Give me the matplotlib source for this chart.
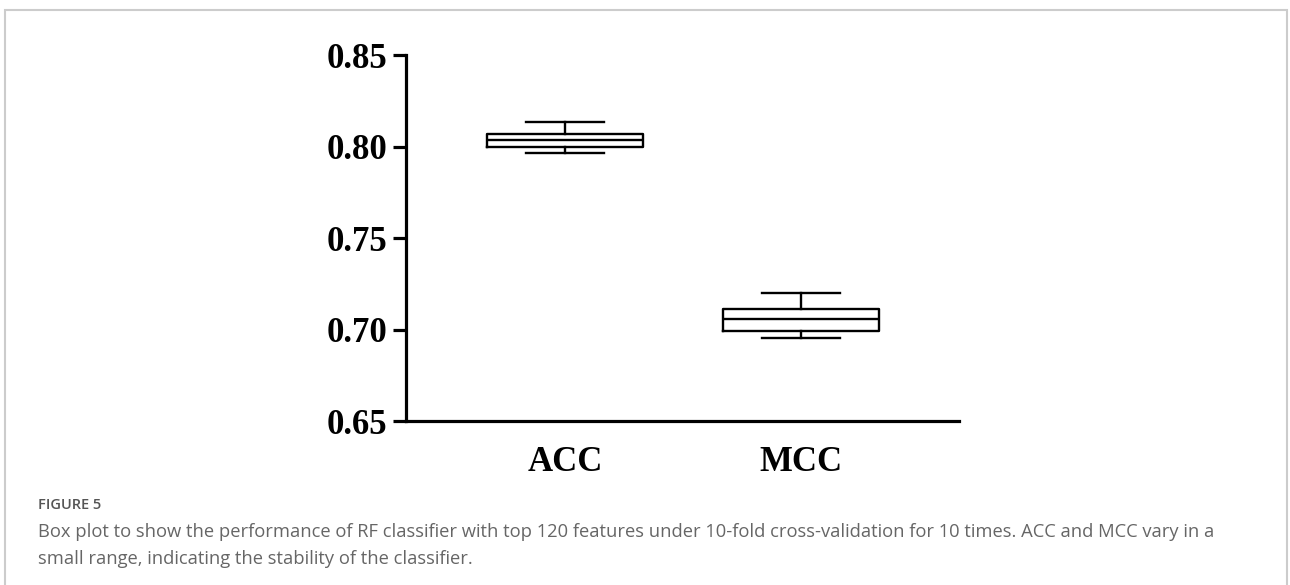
import matplotlib
matplotlib.use('Agg')
import matplotlib.pyplot as plt
from matplotlib.patches import Rectangle

# box plot values (10 x 10-fold CV)
categories = ['ACC', 'MCC']
whis_low = [0.7967, 0.6955]
q1 = [0.7995, 0.6990]
medians = [0.8036, 0.7055]
q3 = [0.8071, 0.7114]
whis_high = [0.8133, 0.7201]
y_ticks = [0.65, 0.70, 0.75, 0.80, 0.85]

caption_head = 'FIGURE 5'
caption_text = ('Box plot to show the performance of RF classifier with top 120 features under 10-fold '
                'cross-validation for 10 times. ACC and MCC vary in a\nsmall range, indicating the '
                'stability of the classifier.')

stats = []
for i in range(len(categories)):
    stats.append({'label': categories[i], 'whislo': whis_low[i], 'q1': q1[i], 'med': medians[i],
                  'q3': q3[i], 'whishi': whis_high[i], 'fliers': []})

fig = plt.figure(figsize=(12.9, 5.85), dpi=100)
ax = fig.add_axes([0.3147, 0.2803, 0.4287, 0.6256])

lw = 1.7
ax.bxp(stats, positions=[1, 2], widths=0.66, showfliers=False,
       boxprops=dict(color='black', linewidth=lw),
       medianprops=dict(color='black', linewidth=lw),
       whiskerprops=dict(color='black', linewidth=lw),
       capprops=dict(color='black', linewidth=lw), capwidths=0.33)

ax.set_xlim(0.326, 2.669)
ax.set_ylim(0.65, 0.85)
ax.set_yticks(y_ticks)
ax.set_yticklabels(['%.2f' % v for v in y_ticks])

for s in ['top', 'right']:
    ax.spines[s].set_visible(False)
for s in ['left', 'bottom']:
    ax.spines[s].set_linewidth(2.3)

serif = dict(family='Liberation Serif', weight='bold', size=25)
for lab in ax.get_yticklabels() + ax.get_xticklabels():
    lab.set_fontproperties(matplotlib.font_manager.FontProperties(**serif))
ax.tick_params(axis='y', length=9.5, width=2.3, pad=4)
ax.tick_params(axis='x', length=0, pad=18)

# caption below the chart
fig.text(38 / 1290, 1 - 505 / 585, caption_head, fontsize=10.5, color='#555555',
         family='Open Sans', weight='semibold', va='center', ha='left')
fig.text(38 / 1290, 1 - 523 / 585, caption_text, fontsize=13.2, color='#666666',
         family='Open Sans', va='top', ha='left', linespacing=1.62)

# light frame around the figure panel
fig.patches.append(Rectangle((5 / 1290, -0.05), 1282 / 1290, 1.05 - 10 / 585,
                             transform=fig.transFigure, fill=False,
                             edgecolor='#cccccc', linewidth=1.5))

fig.savefig('out.png', dpi=100)
